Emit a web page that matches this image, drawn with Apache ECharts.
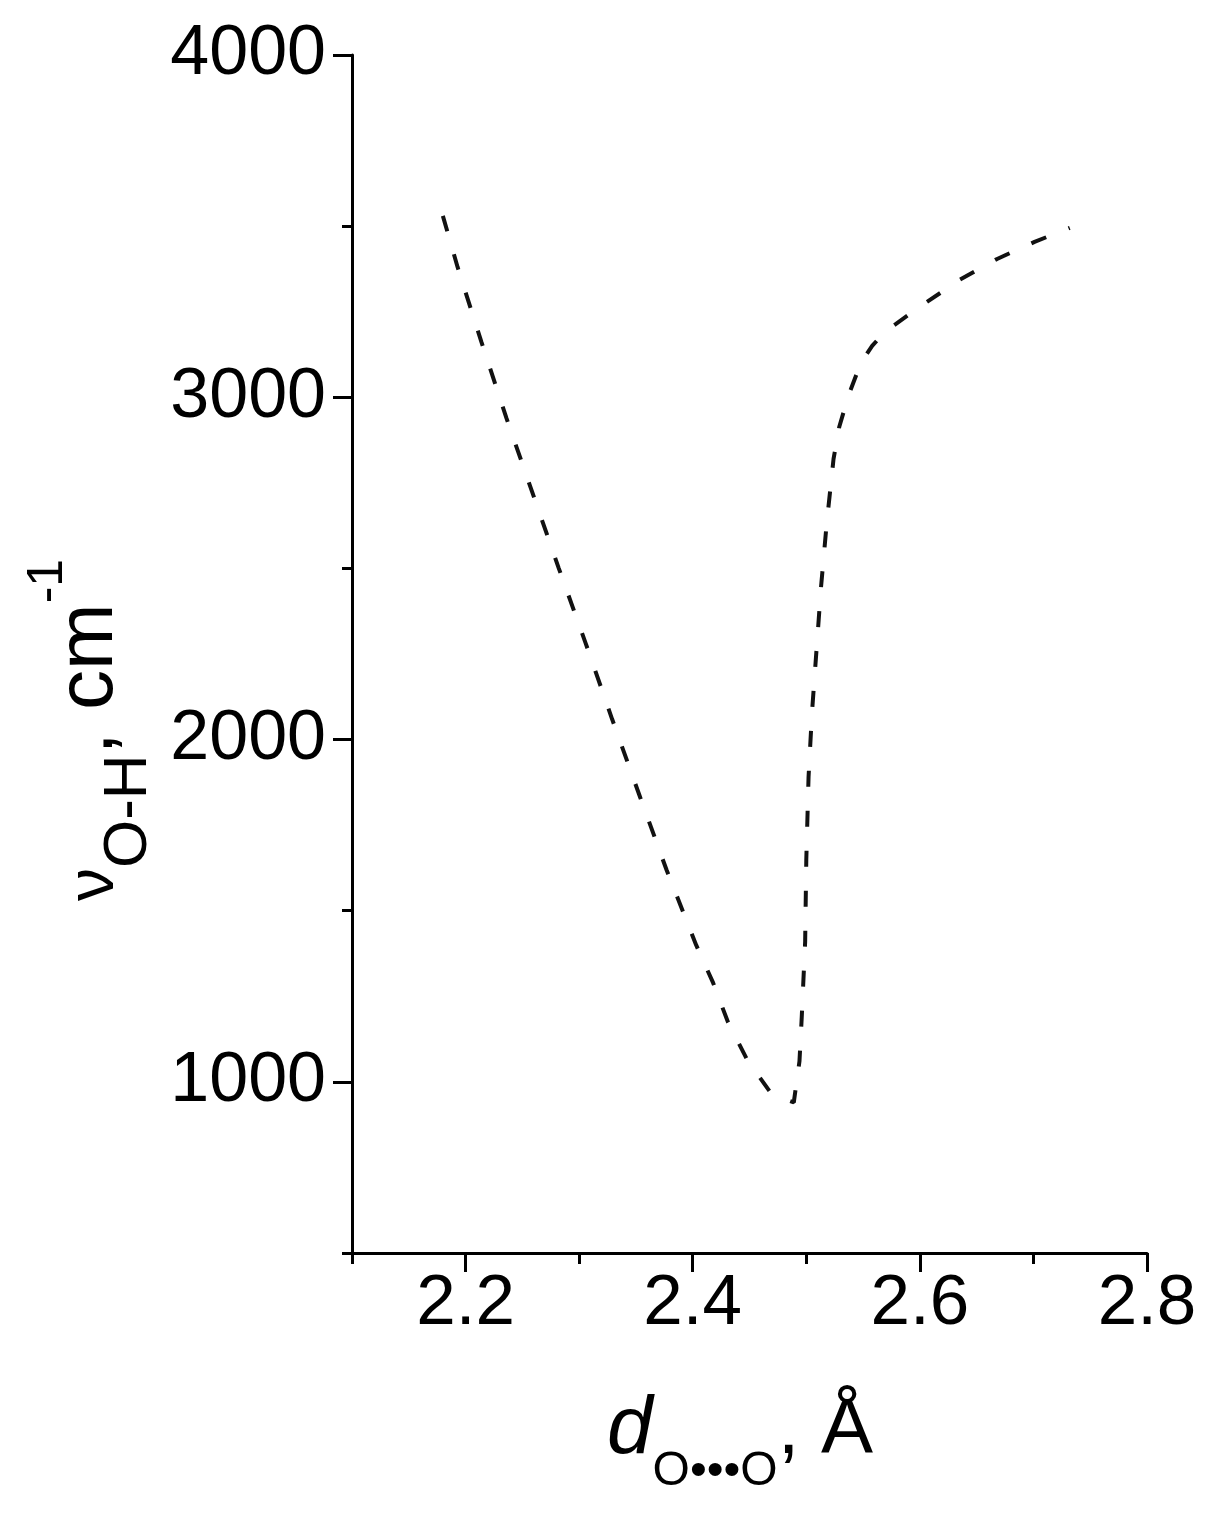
<!DOCTYPE html>
<html><head><meta charset="utf-8">
<script src="https://cdn.jsdelivr.net/npm/echarts@6/dist/echarts.min.js"></script>
<style>html,body{margin:0;padding:0;background:#fff}#c{width:1224px;height:1515px}</style>
</head><body><div id="c"></div>
<script>
const dOO = [2.180, 2.193, 2.214, 2.236, 2.259, 2.282, 2.306, 2.329, 2.353, 2.377, 2.403, 2.418, 2.431, 2.448, 2.470, 2.489, 2.494, 2.496, 2.499, 2.500, 2.502, 2.505, 2.509, 2.513, 2.518, 2.521, 2.524, 2.529, 2.537, 2.548, 2.558, 2.569, 2.602, 2.635, 2.668, 2.701, 2.732];
const nuOH = [3530, 3380, 3161, 2939, 2720, 2501, 2279, 2060, 1838, 1619, 1400, 1289, 1175, 1064, 962, 940, 1060, 1189, 1409, 1648, 1891, 2078, 2262, 2446, 2633, 2726, 2820, 2913, 3004, 3100, 3150, 3191, 3269, 3343, 3404, 3454, 3495];
const xMajorTicks = [2.2, 2.4, 2.6, 2.8];
const xMinorTicks = [2.1, 2.3, 2.5, 2.7];
const yMajorTicks = [1000, 2000, 3000, 4000];
const yMinorTicks = [500, 1500, 2500, 3500];

const FONT = "'Liberation Sans', Arial, sans-serif";
const AX = {color: '#000', width: 3};
const chart = echarts.init(document.getElementById('c'), null, {renderer: 'canvas'});
chart.setOption({
  animation: false,
  backgroundColor: '#fff',
  grid: {left: 352, right: 77, top: 55, bottom: 262, containLabel: false},
  xAxis: [
    {type: 'value', min: 2.1, max: 2.8, position: 'bottom',
     axisLine: {show: true, onZero: false, lineStyle: AX},
     axisTick: {show: true, inside: false, length: 19, customValues: xMajorTicks, lineStyle: AX},
     axisLabel: {customValues: xMajorTicks, formatter: v => Number(v).toFixed(1), fontSize: 71, color: '#000', fontFamily: FONT, margin: 16},
     splitLine: {show: false}},
    {type: 'value', min: 2.1, max: 2.8, position: 'bottom',
     axisLine: {show: false, onZero: false},
     axisTick: {show: true, inside: false, length: 11, customValues: xMinorTicks, lineStyle: AX},
     axisLabel: {show: false}, splitLine: {show: false}}
  ],
  yAxis: [
    {type: 'value', min: 500, max: 4000, position: 'left',
     axisLine: {show: true, onZero: false, lineStyle: AX},
     axisTick: {show: true, inside: false, length: 19, customValues: yMajorTicks, lineStyle: AX},
     axisLabel: {customValues: yMajorTicks, formatter: v => String(Math.round(v)), fontSize: 70, color: '#000', fontFamily: FONT, margin: 26},
     splitLine: {show: false}},
    {type: 'value', min: 500, max: 4000, position: 'left',
     axisLine: {show: false, onZero: false},
     axisTick: {show: true, inside: false, length: 10, customValues: yMinorTicks, lineStyle: AX},
     axisLabel: {show: false}, splitLine: {show: false}}
  ],
  series: [{
    type: 'line', xAxisIndex: 0, yAxisIndex: 0,
    data: dOO.map((x, i) => [x, nuOH[i]]),
    showSymbol: false, symbol: 'none', smooth: false,
    lineStyle: {color: '#111', width: 4, type: [16, 24]}
  }],
  graphic: [
    {type: 'text', x: 740, y: 1496, silent: true,
     style: {text: '{d|d}{s|O•••O}{m|, Å}', align: 'center', verticalAlign: 'bottom',
       rich: {
         d: {fontSize: 82, fontStyle: 'italic', fontFamily: FONT, lineHeight: 82, verticalAlign: 'bottom', padding: [0, 0, 25, 0], fill: '#000'},
         s: {fontSize: 48, fontFamily: FONT, lineHeight: 48, verticalAlign: 'bottom', padding: [0, 0, 0, 0], fill: '#000'},
         m: {fontSize: 78, fontFamily: FONT, lineHeight: 78, verticalAlign: 'bottom', padding: [0, 0, 26, 0], fill: '#000'}
       }}},
    {type: 'text', x: 160, y: 730, rotation: Math.PI / 2, silent: true,
     style: {text: '{n|ν}{s|O-H}{c|, cm}{u|-1}', align: 'center', verticalAlign: 'bottom',
       rich: {
         n: {fontSize: 66, fontFamily: FONT, lineHeight: 66, verticalAlign: 'bottom', padding: [0, 0, 32, 0], fill: '#000'},
         s: {fontSize: 62, fontFamily: FONT, lineHeight: 62, verticalAlign: 'bottom', padding: [0, 0, 0, 0], fill: '#000'},
         c: {fontSize: 80, fontFamily: FONT, lineHeight: 80, verticalAlign: 'bottom', padding: [0, 0, 30, 0], fill: '#000'},
         u: {fontSize: 50, fontFamily: FONT, lineHeight: 50, verticalAlign: 'bottom', padding: [0, 0, 87, 0], fill: '#000'}
       }}}
  ]
});
</script>
</body></html>
